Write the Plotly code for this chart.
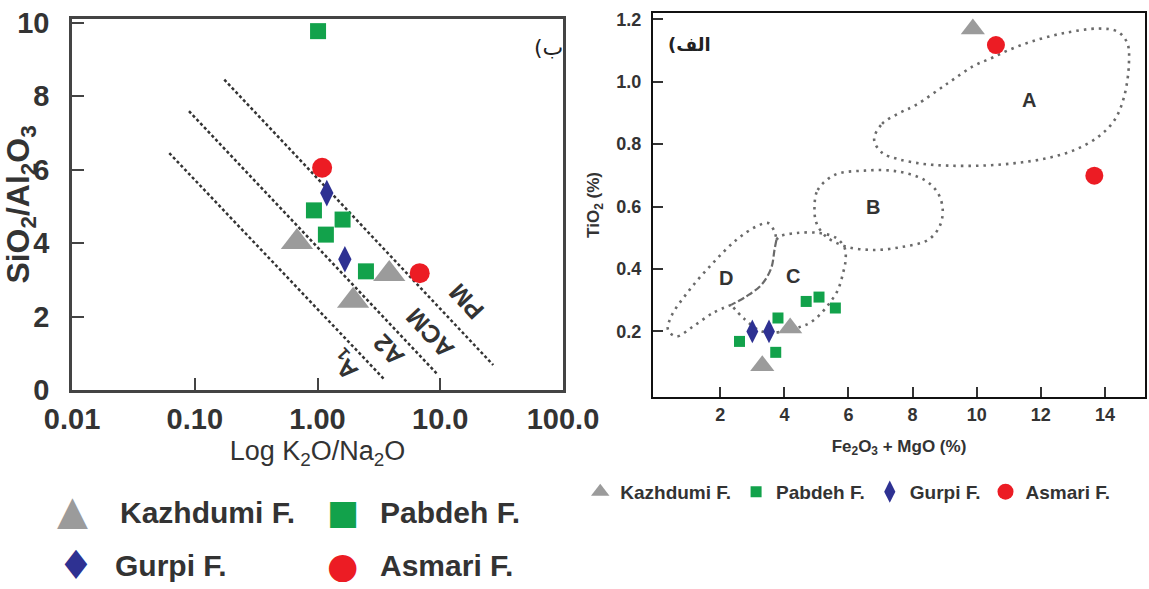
import numpy as np
import plotly.graph_objects as go

# ---------------- data ----------------
formations = ["Kazhdumi F.", "Pabdeh F.", "Gurpi F.", "Asmari F."]
colors = ["#9b9b9b", "#12a24b", "#2e3192", "#ec1c24"]
legend_glyphs = ["\u25B2", "\u25A0", "\u2666", "\u25CF"]

# Left panel (ب): SiO2/Al2O3 vs K2O/Na2O (log)
left_k2o_na2o = {
    "Kazhdumi F.": [0.68, 1.95, 3.84],
    "Pabdeh F.": [1.01, 0.935, 1.60, 1.17, 2.48],
    "Gurpi F.": [1.19, 1.67],
    "Asmari F.": [1.09, 6.8],
}
left_sio2_al2o3 = {
    "Kazhdumi F.": [4.03, 2.43, 3.16],
    "Pabdeh F.": [9.77, 4.89, 4.64, 4.23, 3.23],
    "Gurpi F.": [5.36, 3.56],
    "Asmari F.": [6.05, 3.18],
}
left_xtick_vals = [0.01, 0.1, 1, 10, 100]
left_xtick_text = ["0.01", "0.10", "1.00", "10.0", "100.0"]
left_ytick_vals = [0, 2, 4, 6, 8, 10]

# field boundary lines (start / end)
bound_x0 = [0.062, 0.0897, 0.174]
bound_y0 = [6.45, 7.59, 8.45]
bound_x1 = [3.54, 9.6, 27.0]
bound_y1 = [0.27, 0.41, 0.68]
field_labels_left = ["A<sub>1</sub>", "A2", "ACM", "PM"]
field_label_x = [1.67, 3.77, 8.2, 16.4]
field_label_y = [0.68, 1.09, 1.55, 2.41]

# Right panel (الف): TiO2 vs Fe2O3+MgO
right_fe2o3_mgo = {
    "Kazhdumi F.": [9.88, 4.18, 3.31],
    "Pabdeh F.": [2.60, 3.80, 3.73, 4.68, 5.08, 5.59],
    "Gurpi F.": [3.00, 3.52],
    "Asmari F.": [10.6, 13.67],
}
right_tio2 = {
    "Kazhdumi F.": [1.169, 0.211, 0.09],
    "Pabdeh F.": [0.168, 0.243, 0.133, 0.296, 0.310, 0.275],
    "Gurpi F.": [0.20, 0.20],
    "Asmari F.": [1.117, 0.699],
}
right_xtick_vals = [2, 4, 6, 8, 10, 12, 14]
right_ytick_vals = [0.2, 0.4, 0.6, 0.8, 1.0, 1.2]

fieldA_x = [6.8, 7.05, 7.6, 8.1, 9.1, 9.9, 10.45, 10.97, 11.7, 12.7, 13.8, 14.4, 14.7, 14.75,
            14.6, 14.3, 13.8, 13.05, 12.2, 11.2, 10.15, 9.1, 8.3, 7.55, 7.05, 6.8]
fieldA_y = [0.815, 0.865, 0.9, 0.925, 0.995, 1.05, 1.075, 1.1, 1.128, 1.155, 1.17, 1.16, 1.123, 1.06,
            0.952, 0.877, 0.824, 0.781, 0.755, 0.739, 0.731, 0.731, 0.737, 0.752, 0.772, 0.815]
fieldB_x = [4.94, 5.04, 5.56, 6.5, 7.5, 8.37, 8.79, 8.94, 8.84, 8.48, 7.64, 6.76, 5.92, 5.3, 5.0, 4.94]
fieldB_y = [0.60, 0.653, 0.701, 0.715, 0.713, 0.685, 0.643, 0.589, 0.536, 0.493, 0.47, 0.461, 0.472,
            0.504, 0.547, 0.60]
fieldC_x = [3.75, 3.85, 4.37, 5.10, 5.62, 5.88, 5.91, 5.83, 5.67, 5.41, 5.10, 4.79, 4.53, 4.0, 3.3, 2.75, 2.34]
fieldC_y = [0.493, 0.504, 0.515, 0.515, 0.499, 0.467, 0.429, 0.387, 0.333, 0.291, 0.253, 0.227, 0.216,
            0.2, 0.2, 0.24, 0.285]
fieldD_x = [2.34, 1.77, 1.15, 0.63, 0.37, 0.47, 1.04, 1.77, 2.50, 3.12, 3.49, 3.69, 3.75]
fieldD_y = [0.285, 0.259, 0.216, 0.184, 0.205, 0.248, 0.333, 0.419, 0.493, 0.536, 0.547, 0.52, 0.493]
fieldCD_x = [3.75, 3.69, 3.59, 3.28, 2.81, 2.34]
fieldCD_y = [0.493, 0.461, 0.403, 0.349, 0.312, 0.285]
field_labels_right = ["A", "B", "C", "D"]
field_label_rx = [11.64, 6.76, 4.27, 2.19]
field_label_ry = [0.941, 0.60, 0.376, 0.371]

# ---------------- styles ----------------
FONT = "Liberation Sans, Arial, sans-serif"
left_sym = {"Kazhdumi F.": ("triangle-up", 28), "Pabdeh F.": ("square", 16),
            "Gurpi F.": ("diamond-tall", 19), "Asmari F.": ("circle", 20)}
right_sym = {"Kazhdumi F.": ("triangle-up", 21), "Pabdeh F.": ("square", 11),
             "Gurpi F.": ("diamond-tall", 17), "Asmari F.": ("circle", 18)}

fig = go.Figure()

# left boundaries
for x0, y0, x1, y1 in zip(bound_x0, bound_y0, bound_x1, bound_y1):
    fig.add_trace(go.Scatter(x=[x0, x1], y=[y0, y1], mode="lines", xaxis="x", yaxis="y",
                             line=dict(color="#333333", width=2.5, dash="3px,2.5px"),
                             showlegend=False, hoverinfo="skip"))

# right fields
for fx, fy in [(fieldA_x, fieldA_y), (fieldB_x, fieldB_y), (fieldC_x, fieldC_y), (fieldD_x, fieldD_y)]:
    fig.add_trace(go.Scatter(x=fx, y=fy, mode="lines", xaxis="x2", yaxis="y2",
                             line=dict(color="#6a6a6a", width=2.6, dash="2.5px,5px", shape="spline",
                                       smoothing=1.0),
                             showlegend=False, hoverinfo="skip"))
fig.add_trace(go.Scatter(x=fieldCD_x, y=fieldCD_y, mode="lines", xaxis="x2", yaxis="y2",
                         line=dict(color="#6a6a6a", width=2.2, dash="7px,3px", shape="spline"),
                         showlegend=False, hoverinfo="skip"))

for f, c in zip(formations, colors):
    s, sz = left_sym[f]
    fig.add_trace(go.Scatter(x=left_k2o_na2o[f], y=left_sio2_al2o3[f], mode="markers", name=f,
                             xaxis="x", yaxis="y", showlegend=False,
                             marker=dict(symbol=s, size=sz, color=c, line=dict(width=0))))
for f, c in zip(formations, colors):
    s, sz = right_sym[f]
    fig.add_trace(go.Scatter(x=right_fe2o3_mgo[f], y=right_tio2[f], mode="markers", name=f,
                             xaxis="x2", yaxis="y2", showlegend=True,
                             marker=dict(symbol=s, size=sz, color=c, line=dict(width=0))))

annotations = []
for t, x, y in zip(field_labels_left, field_label_x, field_label_y):
    annotations.append(dict(x=np.log10(x), y=y, xref="x", yref="y", text=t, showarrow=False,
                            xanchor="center", yanchor="middle", textangle=-133,
                            font=dict(family=FONT, size=25, color="#333333", weight=700)))
for t, x, y in zip(field_labels_right, field_label_rx, field_label_ry):
    annotations.append(dict(x=x, y=y, xref="x2", yref="y2", text=t, showarrow=False,
                            xanchor="center", yanchor="middle",
                            font=dict(family=FONT, size=20, color="#333333", weight=700)))
annotations.append(dict(x=0.477, y=0.92, xref="paper", yref="paper", text="(ب", showarrow=False,
                        xanchor="center", yanchor="middle",
                        font=dict(family="DejaVu Sans", size=22, color="#222222")))
annotations.append(dict(x=0.6005, y=0.924, xref="paper", yref="paper", text="(الف", showarrow=False,
                        xanchor="center", yanchor="middle",
                        font=dict(family="DejaVu Sans", size=18, color="#222222", weight=700)))

# left big legend (glyph + label)
leg_pos = [(0.0627, 0.1027, 0.1307), (0.2985, 0.329, 0.1307), (0.0661, 0.0983, 0.04), (0.2985, 0.329, 0.04)]
glyph_sizes = [48, 34, 40, 36]
for (gx, tx, ly), g, gs, f, c in zip(leg_pos, legend_glyphs, glyph_sizes, formations, colors):
    annotations.append(dict(x=gx, y=ly, xref="paper", yref="paper", text=g, showarrow=False,
                            xanchor="center", yanchor="middle", height=34, valign="middle",
                            font=dict(family="DejaVu Sans", size=gs, color=c)))
    annotations.append(dict(x=tx, y=ly, xref="paper", yref="paper", text=f, showarrow=False,
                            xanchor="left", yanchor="middle",
                            font=dict(family=FONT, size=30, color="#333333", weight=700)))

axis_common = dict(showgrid=False, zeroline=False, showline=True, mirror=True, ticks="inside",
                   automargin=False)

fig.update_layout(
    width=1149, height=589, margin=dict(l=0, r=0, t=0, b=0, autoexpand=False),
    paper_bgcolor="white", plot_bgcolor="white",
    font=dict(family=FONT, color="#333333"),
    xaxis=dict(**axis_common, type="log", range=[-2, 2], domain=[0.0627, 0.49], anchor="y",
               tickvals=left_xtick_vals, ticktext=left_xtick_text, ticklen=12, tickwidth=2,
               linecolor="#444444", linewidth=2.5, tickcolor="#444444", ticklabelstandoff=1,
               tickfont=dict(size=29, weight=700, color="#333333"),
               title=dict(text="Log K<sub>2</sub>O/Na<sub>2</sub>O", standoff=8,
                          font=dict(size=27, color="#333333"))),
    yaxis=dict(**axis_common, range=[0, 10.1], domain=[0.3379, 0.9677], anchor="x",
               tickvals=left_ytick_vals, ticklen=12, tickwidth=2,
               linecolor="#444444", linewidth=2.5, tickcolor="#444444", ticklabelstandoff=14,
               tickfont=dict(size=29, weight=700, color="#333333"),
               title=dict(text="SiO<sub>2</sub>/Al<sub>2</sub>O<sub>3</sub>", standoff=0,
                          font=dict(size=32, weight=700, color="#333333"))),
    xaxis2=dict(**axis_common, range=[-0.1, 15.25], domain=[0.5683, 0.9965], anchor="y2",
                tickvals=right_xtick_vals, ticklen=10, tickwidth=2,
                linecolor="#111111", linewidth=2.2, tickcolor="#333333", ticklabelstandoff=0,
                tickfont=dict(size=18, weight=700, color="#333333"),
                title=dict(text="Fe<sub>2</sub>O<sub>3</sub> + MgO (%)", standoff=16,
                           font=dict(size=17, weight=700, color="#333333"))),
    yaxis2=dict(**axis_common, range=[-0.01, 1.22], domain=[0.326, 0.978], anchor="x2",
                tickvals=right_ytick_vals, tickformat=".1f", ticklen=10, tickwidth=2,
                linecolor="#111111", linewidth=2.2, tickcolor="#333333", ticklabelstandoff=6,
                tickfont=dict(size=18, weight=700, color="#333333"),
                title=dict(text="TiO<sub>2</sub> (%)", standoff=12,
                           font=dict(size=17, weight=700, color="#333333"))),
    legend=dict(orientation="h", x=0.505, y=0.165, xanchor="left", yanchor="middle",
                font=dict(family=FONT, size=19, weight=700, color="#333333"),
                bgcolor="rgba(0,0,0,0)", itemsizing="trace"),
    annotations=annotations,
)

fig.write_html("out.html")
